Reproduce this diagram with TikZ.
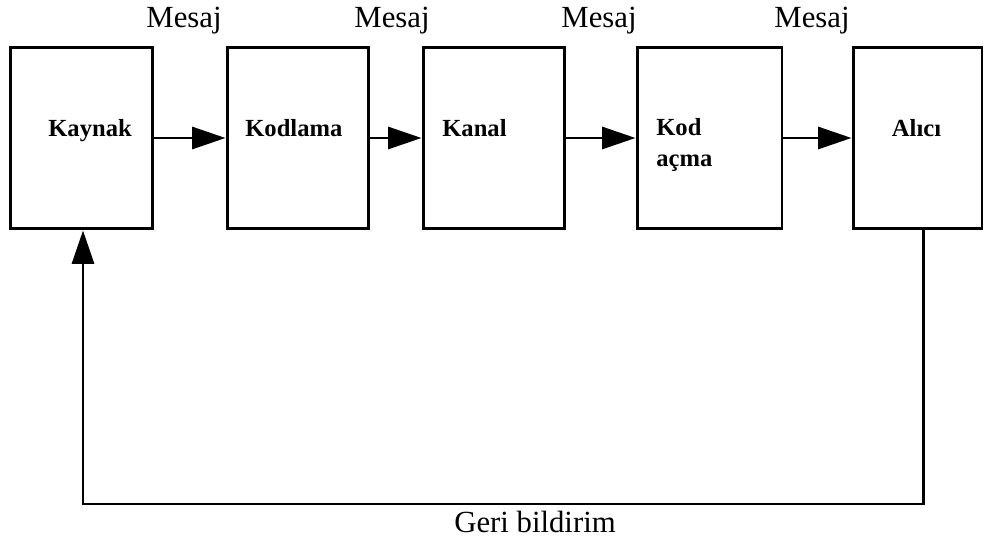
\documentclass[tikz,border=0pt]{standalone}
\usepackage{fontspec}
\setmainfont{Liberation Serif}[BoldFont={Liberation Serif Bold}]
\usetikzlibrary{arrows.meta}

\begin{document}
\begin{tikzpicture}[x=0.02cm, y=0.02cm,
  blok/.style={draw, line width=1.7pt, minimum height=3.64cm, inner sep=0pt},
  etiket/.style={font=\fontsize{14}{18}\selectfont\bfseries, inner sep=0pt},
  mesaj/.style={font=\fontsize{17.5}{20}\selectfont, inner sep=0pt, anchor=base},
  ok/.style={line width=1.7pt, -{Triangle[length=19pt, width=12.5pt]}}]
  \useasboundingbox (0,0) rectangle (984,538);
  % kutular
  \node[blok, minimum width=2.86cm] (kaynak) at (81.5,400) {};
  \node[blok, minimum width=2.84cm] (kodlama) at (298,400) {};
  \node[blok, minimum width=2.84cm] (kanal) at (494,400) {};
  \node[blok, minimum width=2.90cm] (kodacma) at (709.5,400) {};
  \node[blok, minimum width=2.58cm] (alici) at (917.5,400) {};
  % kutu yazilari
  \node[etiket, anchor=base west] (kaynakYazi) at (48,401) {Kaynak};
  \node[etiket, anchor=base west] (kodlamaYazi) at (245,401) {Kodlama};
  \node[etiket, anchor=base west] (kanalYazi) at (442,401) {Kanal};
  \node[etiket, anchor=base west, align=left] (kodacmaYazi) at (656,371) {Kod\\açma};
  \node[etiket, anchor=base] (aliciYazi) at (916.5,401) {Alıcı};
  % mesaj yazilari
  \node[mesaj] (mesaj1) at (184,510) {Mesaj};
  \node[mesaj] (mesaj2) at (392,510) {Mesaj};
  \node[mesaj] (mesaj3) at (599,510) {Mesaj};
  \node[mesaj] (mesaj4) at (812,510) {Mesaj};
  % oklar
  \draw[ok] (kaynak) -- (kodlama);
  \draw[ok] (kodlama) -- (kanal);
  \draw[ok] (kanal) -- (kodacma);
  \draw[ok] (kodacma) -- (alici);
  % geri bildirim
  \coordinate (donusSag) at (923,34);
  \coordinate (donusSol) at (83,34);
  \draw[ok] (alici.south -| donusSag) -- (donusSag) -- (donusSol) -- (donusSol |- kaynak.south);
  \node[mesaj] (geri) at (535,6) {Geri bildirim};
\end{tikzpicture}
\end{document}
